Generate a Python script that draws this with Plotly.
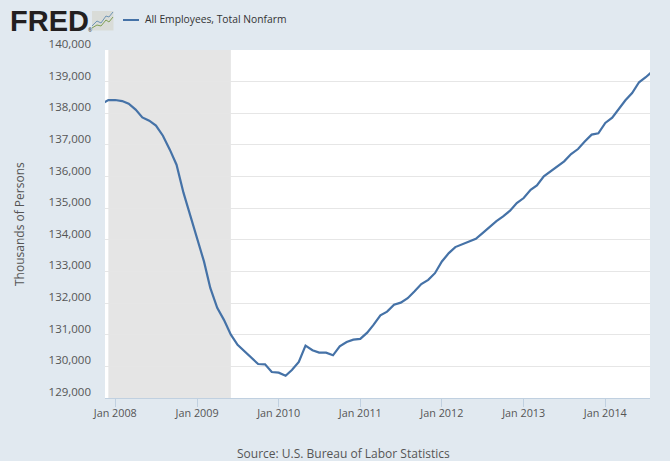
import pandas as pd
import plotly.graph_objects as go

# monthly values, thousands of persons
months = pd.date_range('2007-11-01', '2014-08-01', freq='MS')
employees = [
    138300, 138415,
    138420, 138385, 138300, 138115, 137870, 137765, 137610, 137290, 136850, 136375, 135490, 134790,
    134105, 133310, 132480, 131850, 131470, 131000, 130680, 130465, 130255, 130075, 130065, 129820,
    129800, 129705, 129885, 130140, 130655, 130510, 130435, 130435, 130350, 130635, 130770, 130845,
    130867, 131065, 131310, 131615, 131730, 131950, 132015, 132155, 132375, 132600, 132735, 132945,
    133315, 133580, 133770, 133850, 133945, 134030, 134210, 134400, 134590, 134740, 134920, 135160,
    135320, 135580, 135720, 136005, 136160, 136310, 136480, 136710, 136870, 137110, 137325, 137365,
    137695, 137860, 138115, 138410, 138640, 138980, 139140, 139330,
]
recession = ['2007-12-01', '2009-06-01']
x_range = ['2007-11-16', '2014-07-20']
y_range = [129000, 140000]

W, H = 670, 461
LEFT, RIGHT, TOP, BOTTOM = 105, 650, 50, 398
BG = '#e1e9f0'
TEXT = '#555555'


# paper coordinates are relative to the plot area, so go through these for page pixels
def px(x):
    return (x - LEFT) / (RIGHT - LEFT)


def py(y):
    return (BOTTOM - y) / (BOTTOM - TOP)


def path(points):
    return 'M ' + ' L '.join(f'{px(a):.4f},{py(b):.4f}' for a, b in points)


fig = go.Figure()
fig.add_trace(go.Scatter(
    x=months, y=employees, mode='lines', name='All Employees, Total Nonfarm',
    line=dict(color='#4572a7', width=2.2), showlegend=False,
))

fig.add_shape(type='rect', xref='x', yref='paper', x0=recession[0], x1=recession[1], y0=0, y1=1,
              fillcolor='#e5e5e5', line_width=0, layer='between')

# legend key
fig.add_shape(type='line', xref='paper', yref='paper', x0=px(123), x1=px(139), y0=py(20), y1=py(20),
              line=dict(color='#4572a7', width=2))

# little chart icon next to the logo
fig.add_shape(type='rect', xref='paper', yref='paper', x0=px(92), x1=px(113.5), y0=py(30.5), y1=py(11),
              fillcolor='#d9dcd8', line_width=0)
fig.add_shape(type='path', xref='paper', yref='paper',
              path=path([(92, 26), (97, 21), (101, 23), (106, 16), (109, 17), (113, 12)]),
              line=dict(color='#6f95b5', width=1))
fig.add_shape(type='path', xref='paper', yref='paper',
              path=path([(92, 28), (97, 25), (101, 26), (106, 20), (109, 22), (113, 17)]),
              line=dict(color='#7f9f55', width=1))


def note(text, x, y, size, color=TEXT, family='Open Sans', anchor='left', angle=0):
    fig.add_annotation(text=text, xref='paper', yref='paper', x=px(x), y=py(y), showarrow=False,
                       xanchor=anchor, yanchor='middle', textangle=angle, borderpad=0,
                       font=dict(family=family, size=size, color=color))


note('<b>FRED</b>', 9, 21, 29, color='#231f20', family='Liberation Sans')
note('®', 87, 29.5, 5, color='#231f20')
note('All Employees, Total Nonfarm', 143.5, 19.5, 10.3, color='#333333')
note('Thousands of Persons', 19, 224, 12, anchor='center', angle=-90)
note('Source: U.S. Bureau of Labor Statistics', 343, 453, 12, anchor='center')

fig.update_layout(
    width=W, height=H,
    margin=dict(l=LEFT, r=W - RIGHT, t=TOP, b=H - BOTTOM),
    paper_bgcolor=BG, plot_bgcolor='#ffffff',
    font=dict(family='Open Sans', size=11.5, color=TEXT),
    xaxis=dict(
        range=x_range, type='date', tick0='2008-01-01', dtick='M12', tickformat='%b %Y',
        showgrid=False, showline=True, linecolor='#c0d0e0', linewidth=1,
        ticks='outside', ticklen=8, tickcolor='#c0d0e0', tickwidth=1,
        tickfont=dict(size=10.8), ticklabelstandoff=-3,
    ),
    yaxis=dict(
        range=y_range, dtick=1000, tickformat=',d', showgrid=True, gridcolor='#e6e6e6', gridwidth=1,
        zeroline=False, showline=False, ticks='', ticklabelstandoff=13, ticklabelshift=-6,
    ),
)

fig.write_html('out.html', config={'displayModeBar': False}, post_script="document.body.style.margin='0';")
